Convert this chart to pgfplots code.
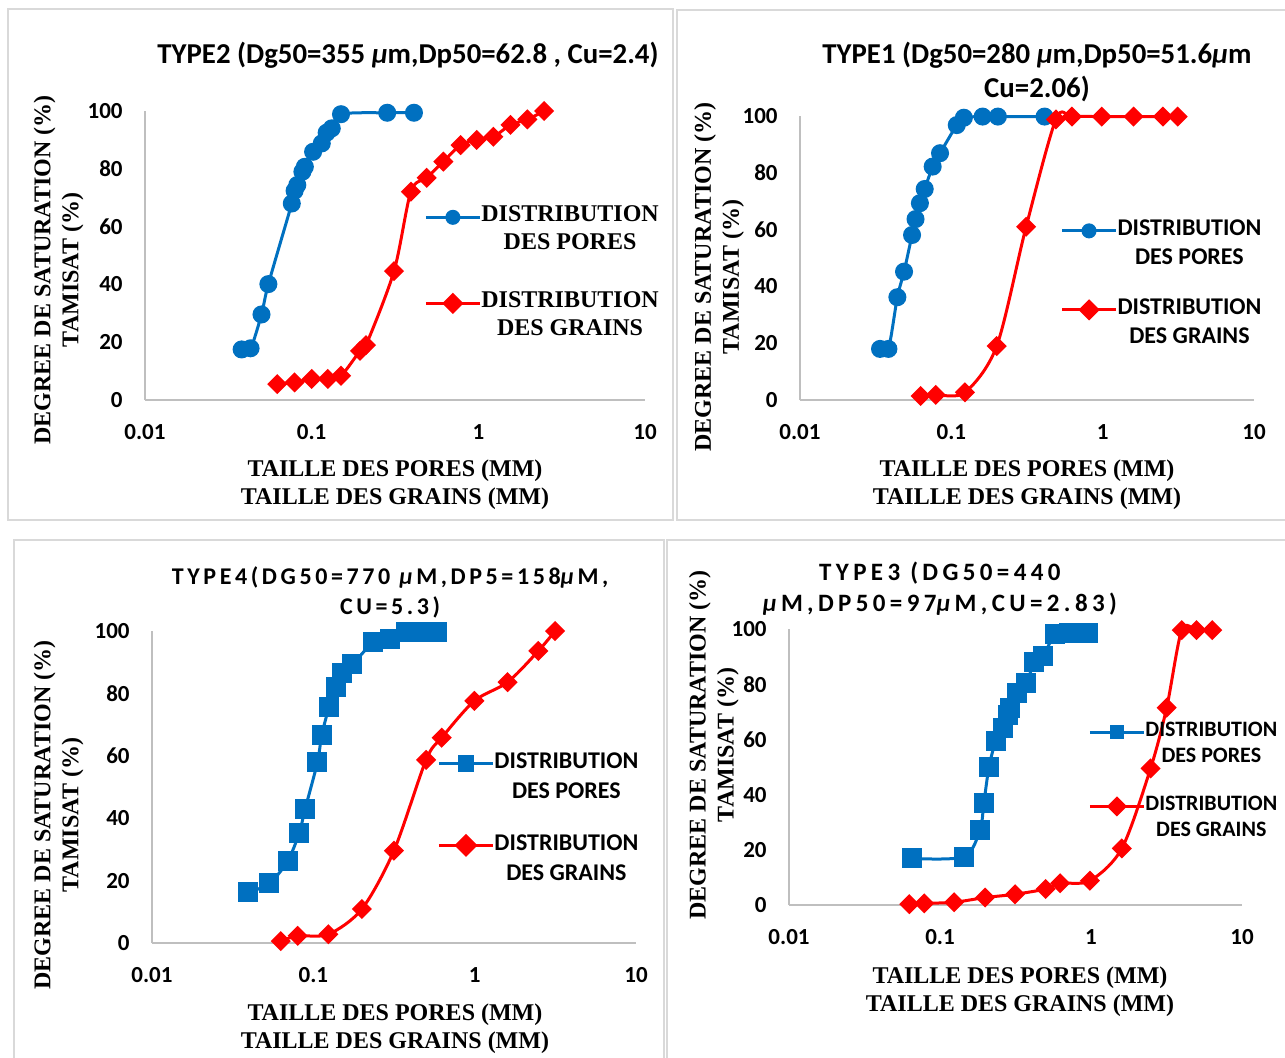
\documentclass[border=0pt]{standalone}
\usepackage{pgfplots}
\pgfplotsset{compat=1.18}
\usepackage{fontspec}
\setmainfont{Liberation Serif}
\newfontfamily\calibri{Carlito}
\newfontfamily\calspA[LetterSpace=15]{Carlito}
\newfontfamily\calspB[LetterSpace=17.5]{Carlito}

\definecolor{xlblue}{HTML}{0070C0}
\definecolor{xlred}{HTML}{FF0000}
\definecolor{framegray}{HTML}{D9D9D9}

\pgfplotsset{
  every axis/.append style={
    scale only axis,
    axis x line=bottom, axis y line=left,
    axis line style={-, draw=black!25, line width=1pt},
    major tick length=0pt, minor tick length=0pt,
    every axis title shift=0pt,
    tick label style={font=\calibri\bfseries\fontsize{11.5}{13}\selectfont, inner sep=0pt},
    xticklabel style={anchor=center, yshift=-16pt},
    yticklabel style={anchor=east, xshift=-11pt},
    label style={font=\bfseries\fontsize{12}{14}\selectfont, align=center},
    clip=false,
    legend cell align=center,
    legend style={draw=none, fill=none, inner sep=0pt, row sep=0pt,
      column sep=0pt, anchor=north west},
    legend image code/.code={
      \draw[mark repeat=2,mark phase=2,##1] plot coordinates {(0pt,0pt) (13.5pt,0pt) (27pt,0pt)};},
  },
  pores/.style={xlblue, line width=1.5pt, smooth, mark=*, mark size=3.75pt},
  poresq/.style={xlblue, line width=1.5pt, smooth, mark=square*, mark size=4.25pt},
  grains/.style={xlred, line width=1.5pt, smooth, mark=square*, mark size=2.8pt,
    mark options={rotate=45}},
}

\begin{document}
\begin{tikzpicture}
\useasboundingbox (0,0) rectangle (642.5pt,-528.5pt);
% panel frames
\draw[framegray, line width=0.8pt] (4pt,-4.5pt) rectangle (336.5pt,-260pt);
\draw[framegray, line width=0.8pt] (338.5pt,-5pt) rectangle (646pt,-260pt);
\draw[framegray, line width=0.8pt] (7pt,-270pt) rectangle (332pt,-532pt);
\draw[framegray, line width=0.8pt] (333.5pt,-270pt) rectangle (646pt,-532pt);

% ---- TYPE2 (top left)
\begin{axis}[xmode=log, xmin=0.01, xmax=10, ymin=0, ymax=100,
    xtick={0.01,0.1,1,10}, xticklabels={0.01,0.1,1,10},
    ytick={0,20,40,60,80,100}, yticklabels={0,20,40,60,80,100},
    ylabel={DEGREE DE SATURATION (\%)\\TAMISAT (\%)},
    xlabel={TAILLE DES PORES (MM)\\TAILLE DES GRAINS (MM)},
    at={(72.5pt,-200pt)}, anchor=south west,
    width=250pt, height=144.5pt,
    title={TYPE2 (Dg50=355 \textit{μ}m,Dp50=62.8 , Cu=2.4)},
    title style={at={(axis description cs:0.526,1.194)}, anchor=center,
      font=\calibri\bfseries\fontsize{14.4}{17}\selectfont},
    ylabel style={at={(axis description cs:-0.173,0.45)}, anchor=center},
    xlabel style={at={(axis description cs:0.5,-0.294)}, anchor=center},
    legend style={at={(axis description cs:0.558,0.682)},
      font=\bfseries\fontsize{12}{14}\selectfont,
      nodes={inner sep=0pt, text height=9pt, text depth=5pt}},
    legend image post style={mark size=3pt},
  ]
  \addplot[pores] coordinates {
    (0.038,17.5)(0.043,17.9)(0.050,29.6)(0.055,40.1)(0.076,68)(0.079,72.4)
    (0.082,74.4)(0.088,79)(0.091,80.7)(0.102,85.9)(0.115,88.8)(0.123,92.5)
    (0.132,94)(0.150,98.9)(0.284,99.4)(0.411,99.4)};
  \addlegendentry{DISTRIBUTION}
  \addlegendimage{empty legend}\addlegendentry{DES PORES}
  \addlegendimage{empty legend}\addlegendentry[text height=15pt, text depth=0pt]{~}
  \addplot[grains] coordinates {
    (0.0622,5.5)(0.079,6.1)(0.1,7.3)(0.125,7.3)(0.15,8.4)(0.195,17)(0.212,19)
    (0.312,44.6)(0.394,72.1)(0.49,76.9)(0.617,82.5)(0.783,88.2)(0.977,90)
    (1.23,91.1)(1.56,95.2)(1.97,97.1)(2.48,100)};
  \addlegendentry{DISTRIBUTION}
  \addlegendimage{empty legend}\addlegendentry{DES GRAINS}
\end{axis}

% ---- TYPE1 (top right)
\begin{axis}[xmode=log, xmin=0.01, xmax=10, ymin=0, ymax=100,
    xtick={0.01,0.1,1,10}, xticklabels={0.01,0.1,1,10},
    ytick={0,20,40,60,80,100}, yticklabels={0,20,40,60,80,100},
    ylabel={DEGREE DE SATURATION (\%)\\TAMISAT (\%)},
    xlabel={TAILLE DES PORES (MM)\\TAILLE DES GRAINS (MM)},
    at={(400pt,-200pt)}, anchor=south west,
    width=227pt, height=142pt,
    title={TYPE1 (Dg50=280 \textit{μ}m,Dp50=51.6\textit{μ}m\\Cu=2.06)},
    title style={at={(axis description cs:0.522,1.155)}, anchor=center, align=center,
      font=\calibri\bfseries\fontsize{14.4}{17}\selectfont},
    ylabel style={at={(axis description cs:-0.178,0.433)}, anchor=center},
    xlabel style={at={(axis description cs:0.5,-0.300)}, anchor=center},
    legend style={at={(axis description cs:0.573,0.648)},
      font=\calibri\bfseries\fontsize{12}{14}\selectfont,
      nodes={inner sep=0pt, text height=9.5pt, text depth=5pt}},
    legend image post style={mark size=3pt},
  ]
  \addplot[pores] coordinates {
    (0.0338,18)(0.0384,18)(0.044,36.2)(0.0487,45.2)(0.055,58.1)(0.058,63.7)
    (0.062,69.3)(0.0667,74.3)(0.0753,82.2)(0.0842,86.9)(0.1086,96.8)(0.121,99.4)
    (0.161,99.8)(0.203,99.8)(0.413,99.8)};
  \addlegendentry{DISTRIBUTION}
  \addlegendimage{empty legend}\addlegendentry{DES PORES}
  \addlegendimage{empty legend}\addlegendentry[text height=10.5pt, text depth=0pt]{~}
  \addplot[grains] coordinates {
    (0.0627,1.4)(0.0789,1.8)(0.123,2.7)(0.1995,19)(0.312,61)(0.491,98.8)
    (0.626,99.8)(0.986,99.8)(1.6,99.8)(2.5,99.8)(3.13,99.8)};
  \addlegendentry{DISTRIBUTION}
  \addlegendimage{empty legend}\addlegendentry{DES GRAINS}
\end{axis}

% ---- TYPE4 (bottom left)
\begin{axis}[xmode=log, xmin=0.01, xmax=10, ymin=0, ymax=100,
    xtick={0.01,0.1,1,10}, xticklabels={0.01,0.1,1,10},
    ytick={0,20,40,60,80,100}, yticklabels={0,20,40,60,80,100},
    ylabel={DEGREE DE SATURATION (\%)\\TAMISAT (\%)},
    xlabel={TAILLE DES PORES (MM)\\TAILLE DES GRAINS (MM)},
    at={(76pt,-471.5pt)}, anchor=south west,
    width=242pt, height=156pt,
    title={TYPE4(DG50=770 \textit{μ}M,DP5=158\textit{μ}M,\\CU=5.3)},
    title style={at={(axis description cs:0.492,1.125)}, anchor=center, align=center,
      font=\calspA\bfseries\fontsize{12}{15}\selectfont},
    ylabel style={at={(axis description cs:-0.193,0.41)}, anchor=center},
    xlabel style={at={(axis description cs:0.502,-0.276)}, anchor=center},
    legend style={at={(axis description cs:0.589,0.625)},
      font=\calibri\bfseries\fontsize{12}{14}\selectfont,
      nodes={inner sep=0pt, text height=10pt, text depth=5pt}},
    legend image post style={mark size=3.3pt},
  ]
  \addplot[poresq] coordinates {
    (0.0395,16.2)(0.0534,19.1)(0.0694,26.3)(0.0819,35.4)(0.0889,42.9)(0.106,57.9)
    (0.1128,66.7)(0.125,75.5)(0.138,82)(0.15,86.4)(0.1747,89.3)(0.236,96.4)
    (0.299,97.4)(0.374,99.6)(0.47,99.8)(0.582,99.8)};
  \addlegendentry{DISTRIBUTION}
  \addlegendimage{empty legend}\addlegendentry{DES PORES}
  \addlegendimage{empty legend}\addlegendentry[text height=11pt, text depth=0pt]{~}
  \addplot[grains] coordinates {
    (0.0628,0.6)(0.08,2.3)(0.124,2.8)(0.2,10.9)(0.316,29.6)(0.5,58.7)(0.625,65.8)
    (0.996,77.6)(1.6,83.6)(2.48,93.6)(3.15,100)};
  \addlegendentry{DISTRIBUTION}
  \addlegendimage{empty legend}\addlegendentry{DES GRAINS}
\end{axis}

% ---- TYPE3 (bottom right)
\begin{axis}[xmode=log, xmin=0.01, xmax=10, ymin=0, ymax=100,
    xtick={0.01,0.1,1,10}, xticklabels={0.01,0.1,1,10},
    ytick={0,20,40,60,80,100}, yticklabels={0,20,40,60,80,100},
    ylabel={DEGREE DE SATURATION (\%)\\TAMISAT (\%)},
    xlabel={TAILLE DES PORES (MM)\\TAILLE DES GRAINS (MM)},
    at={(394.5pt,-452.5pt)}, anchor=south west,
    width=226.5pt, height=138pt,
    title={TYPE3 (DG50=440\\\textit{μ}M,DP50=97\textit{μ}M,CU=2.83)},
    title style={at={(axis description cs:0.333,1.147)}, anchor=center, align=center,
      font=\calspB\bfseries\fontsize{12.5}{15.5}\selectfont},
    ylabel style={at={(axis description cs:-0.166,0.58)}, anchor=center},
    xlabel style={at={(axis description cs:0.51,-0.315)}, anchor=center},
    legend style={at={(axis description cs:0.66,0.674)},
      font=\calibri\bfseries\fontsize{11}{13}\selectfont,
      nodes={inner sep=0pt, text height=8.5pt, text depth=4.5pt}},
    legend image post style={mark size=2.8pt},
  ]
  \addplot[poresq] coordinates {
    (0.065,16.9)(0.144,17.5)(0.184,27.2)(0.195,36.8)(0.211,49.9)(0.234,59.5)
    (0.262,64.2)(0.28,68.8)(0.291,71.3)(0.322,76.7)(0.372,80.3)(0.422,87.9)
    (0.484,90.3)(0.578,98.2)(0.718,98.7)(0.959,98.7)};
  \addlegendentry{DISTRIBUTION}
  \addlegendimage{empty legend}\addlegendentry{DES PORES}
  \addlegendimage{empty legend}\addlegendentry[text height=11pt, text depth=0pt]{~}
  \addplot[grains] coordinates {
    (0.0626,0.3)(0.0787,0.6)(0.124,1)(0.199,2.7)(0.314,3.9)(0.501,5.8)(0.624,7.9)
    (0.984,8.8)(1.6,20.5)(2.48,49.5)(3.17,71.5)(3.99,99.6)(5.0,99.6)(6.35,99.6)};
  \addlegendentry{DISTRIBUTION}
  \addlegendimage{empty legend}\addlegendentry{DES GRAINS}
\end{axis}
\end{tikzpicture}
\end{document}
